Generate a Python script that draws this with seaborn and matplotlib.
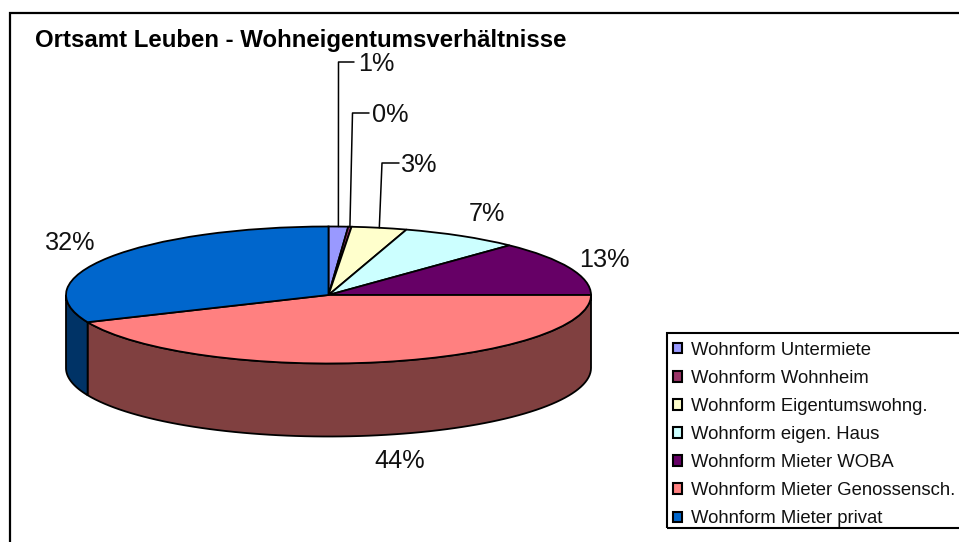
import numpy as np
import seaborn as sns
import matplotlib
matplotlib.use("Agg")
import matplotlib.pyplot as plt
from matplotlib.patches import Rectangle

title = "Ortsamt Leuben - Wohneigentumsverhältnisse"
categories = ["Wohnform Untermiete", "Wohnform Wohnheim", "Wohnform Eigentumswohng.", "Wohnform eigen. Haus",
              "Wohnform Mieter WOBA", "Wohnform Mieter Genossensch.", "Wohnform Mieter privat"]
values = [1.2, 0.2, 3.4, 7.3, 12.9, 43.5, 31.5]
slice_colors = ["#9999FF", "#993366", "#FFFFCC", "#CCFFFF", "#660066", "#FF8080", "#0066CC"]

W, H = 959, 542
CX, CY, RX, RY, DEPTH = 328.5, 295, 262.5, 68.5, 73


def px(x, y):
    # reference pixel -> data coords of the squashed pie
    return (x - CX) / RX, (CY - y) / RY


sns.set_theme(style="white")
plt.rcParams["font.family"] = ["Liberation Sans", "DejaVu Sans"]
palette = sns.color_palette(slice_colors)

fig = plt.figure(figsize=(W / 100, H / 100), dpi=100)
ax = fig.add_axes([0, 0, 1, 1])

# top face
wedges, _ = ax.pie(values, colors=palette, startangle=90, counterclock=False, radius=1,
                   wedgeprops={"edgecolor": "black", "linewidth": 1.3, "zorder": 3})
ax.set_aspect("auto")
ax.set_xlim(px(0, 0)[0], px(W, 0)[0])
ax.set_ylim(px(0, H)[1], px(0, 0)[1])
ax.axis("off")

# side wall, only the front half of the rim is visible
edges = np.concatenate([[0], np.cumsum(values)]) / np.sum(values) * 360
d = DEPTH / RY
for a, b, col in zip(edges[:-1], edges[1:], palette):
    lo, hi = max(a, 90), min(b, 270)
    if hi <= lo:
        continue
    t = np.radians(np.linspace(lo, hi, 80))
    x, y = np.sin(t), np.cos(t)
    xs = np.concatenate([x, x[::-1]])
    ys = np.concatenate([y, y[::-1] - d])
    dark = tuple(c * 0.5 for c in col)
    ax.fill(xs, ys, facecolor=dark, edgecolor="black", linewidth=1.3, zorder=2, clip_on=False)

# percent labels
labels = [f"{v:.0f}%" for v in values]
mids = np.radians((edges[:-1] + edges[1:]) / 2)
leaders = {0: (338.5, 62, 354, 358, 64), 1: (352.5, 113, 369, 372, 115), 2: (382, 163, 399, 401, 165)}
free = {3: (487, 214), 4: (604, 260), 5: (400, 461), 6: (70, 243)}
for i, lab in enumerate(labels):
    if i in leaders:
        kx, ky, ex, tx, ty = leaders[i]
        x0, y0 = np.sin(mids[i]), np.cos(mids[i])
        k = px(kx, ky)
        e = px(ex, ky)
        ax.plot([x0, k[0], e[0]], [y0, k[1], e[1]], color="black", linewidth=1.1, zorder=4)
        ax.text(*px(tx, ty), lab, fontsize=18.2, ha="left", va="center", color="#111111")
    else:
        ax.text(*px(*free[i]), lab, fontsize=18.2, ha="center", va="center", color="#111111")

ax.text(*px(35, 41), title, fontsize=17.3, fontweight="bold", ha="left", va="center", color="black")

# legend box drawn apart so the rows can sit lower in it
fig.add_artist(Rectangle((666.5 / W, 1 - 528 / H), 0.4, 195 / H, transform=fig.transFigure, fill=False,
                         edgecolor="black", linewidth=1.5))
leg = ax.legend(wedges, categories, loc="upper left", bbox_to_anchor=(666 / W, 1 - 335 / H), fontsize=13.35,
                frameon=False, borderaxespad=0, borderpad=0.36,
                labelspacing=0.6, handlelength=0.5, handleheight=0.5, handletextpad=0.5, labelcolor="#111111")
for h in leg.legend_handles:
    h.set_linewidth(1.5)

# chart border, right and bottom sides fall outside the picture
fig.add_artist(Rectangle((9.5 / W, -0.1), 1.2, 1.1 - 12.5 / H, transform=fig.transFigure, fill=False,
                         edgecolor="black", linewidth=1.6))

fig.savefig("out.png", dpi=100)
